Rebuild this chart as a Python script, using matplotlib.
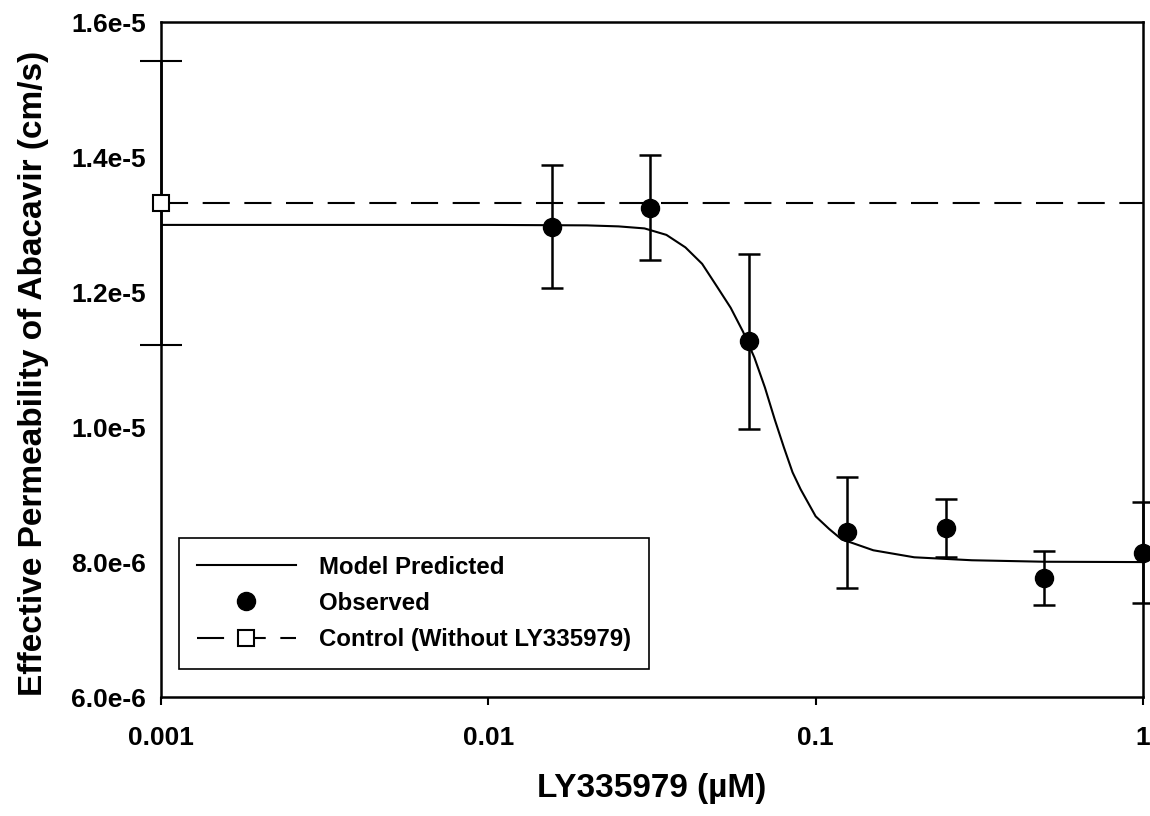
import matplotlib
matplotlib.use("Agg")
import matplotlib.pyplot as plt
from matplotlib.lines import Line2D
from matplotlib.ticker import NullLocator

plt.rcParams['font.family'] = ['Liberation Sans', 'DejaVu Sans']
plt.rcParams['font.weight'] = 'bold'

# observed data (LY335979 concentration in uM, permeability in cm/s)
obs_x = [0.015625, 0.03125, 0.0625, 0.125, 0.25, 0.5, 1.0]
obs_y = [1.297e-5, 1.325e-5, 1.127e-5, 8.44e-6, 8.51e-6, 7.76e-6, 8.14e-6]
obs_err = [0.091e-5, 0.078e-5, 0.130e-5, 0.82e-6, 0.43e-6, 0.40e-6, 0.75e-6]

# control (without inhibitor)
ctrl_x = [0.001]
ctrl_y = [1.332e-5]
ctrl_err = [0.211e-5]

# model predicted curve
model_x = [0.001, 0.01, 0.02, 0.025, 0.03, 0.035, 0.04, 0.045, 0.05, 0.055, 0.06,
           0.065, 0.07, 0.075, 0.08, 0.085, 0.09, 0.1, 0.11, 0.12, 0.13, 0.15,
           0.2, 0.3, 0.5, 1.0]
model_y = [1.2997e-5, 1.2997e-5, 1.2990e-5, 1.2975e-5, 1.2945e-5, 1.2849e-5,
           1.2664e-5, 1.2420e-5, 1.2080e-5, 1.1769e-5, 1.1414e-5, 1.1030e-5,
           1.0586e-5, 1.0112e-5, 9.698e-6, 9.33e-6, 9.077e-6, 8.678e-6, 8.49e-6,
           8.337e-6, 8.28e-6, 8.175e-6, 8.071e-6, 8.027e-6, 8.005e-6, 8.0e-6]

xticks = [0.001, 0.01, 0.1, 1]
xticklabels = ['0.001', '0.01', '0.1', '1']
yticks = [6e-6, 8e-6, 1.0e-5, 1.2e-5, 1.4e-5, 1.6e-5]
yticklabels = ['6.0e-6', '8.0e-6', '1.0e-5', '1.2e-5', '1.4e-5', '1.6e-5']

fig, ax = plt.subplots(figsize=(11.5, 8.16), dpi=100)
fig.subplots_adjust(left=0.140, right=0.9939, top=0.9727, bottom=0.1458)

ax.plot(model_x, model_y, color='k', lw=1.5, zorder=3)
ax.axhline(ctrl_y[0], color='k', lw=1.5, dashes=(13, 7), zorder=2)
ax.errorbar(obs_x, obs_y, yerr=obs_err, fmt='o', color='k', ms=13,
            elinewidth=1.8, capsize=8, capthick=1.8, clip_on=False, zorder=4)
ax.errorbar(ctrl_x, ctrl_y, yerr=ctrl_err, fmt='s', mfc='white', mec='k', ms=11,
            mew=1.5, ecolor='k', elinewidth=1.8, capsize=15, capthick=1.8,
            clip_on=False, zorder=5)

ax.set_xscale('log')
ax.set_xlim(0.001, 1)
ax.set_ylim(6e-6, 1.6e-5)
ax.set_xticks(xticks)
ax.set_xticklabels(xticklabels)
ax.xaxis.set_minor_locator(NullLocator())
ax.set_yticks(yticks)
ax.set_yticklabels(yticklabels)
ax.tick_params(axis='x', direction='out', length=6, width=1.5, labelsize=19, pad=15)
ax.tick_params(axis='y', length=0, labelsize=19, pad=11)
for sp in ax.spines.values():
    sp.set_linewidth(1.8)

ax.set_xlabel('LY335979 (µM)', fontsize=24, fontweight='bold')
ax.set_ylabel('Effective Permeability of Abacavir (cm/s)', fontsize=24, fontweight='bold')
ax.xaxis.set_label_coords(0.5, -0.112)
ax.yaxis.set_label_coords(-0.114, 0.48)

handles = [
    Line2D([], [], color='k', lw=1.5),
    Line2D([], [], color='k', marker='o', ms=13, ls='none'),
    Line2D([], [], color='k', lw=1.5, dashes=(13, 7), marker='s', ms=11,
           mfc='white', mec='k', mew=1.5),
]
labels = ['Model Predicted', 'Observed', 'Control (Without LY335979)']
leg = ax.legend(handles, labels, loc='lower left', bbox_to_anchor=(0.0183, 0.0415),
                borderaxespad=0, fontsize=17.3, handlelength=4.1, handletextpad=0.98,
                borderpad=0.75, labelspacing=0.55, fancybox=False, framealpha=1,
                edgecolor='k', numpoints=1)
leg.get_frame().set_linewidth(1.2)

plt.savefig("out.png", dpi=100)
